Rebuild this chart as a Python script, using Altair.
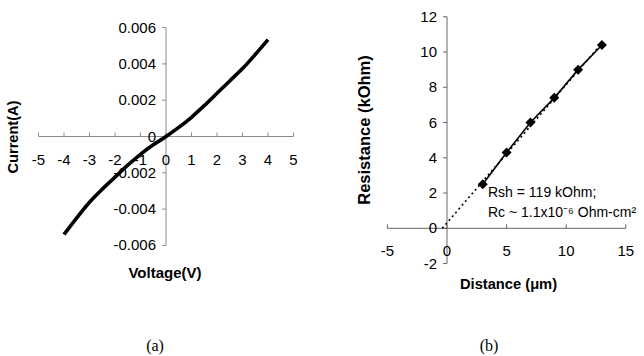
import altair as alt
import pandas as pd

# ---------------- data: panel (a) I-V curve ----------------
voltage = [-4.0, -3.5, -3.0, -2.5, -2.0, -1.5, -1.0, -0.5, 0.0,
           0.5, 1.0, 1.5, 2.0, 2.5, 3.0, 3.5, 4.0]
current = [-0.00540, -0.00448, -0.00362, -0.00290, -0.00224, -0.00158, -0.00098, -0.00046, 0.0,
           0.00050, 0.00106, 0.00170, 0.00238, 0.00306, 0.00374, 0.00452, 0.00534]
a_xticks = [-5, -4, -3, -2, -1, 0, 1, 2, 3, 4, 5]
a_yticks = [-0.006, -0.004, -0.002, 0.0, 0.002, 0.004, 0.006]
a_ylabels = ["-0.006", "-0.004", "-0.002", "0", "0.002", "0.004", "0.006"]

# ---------------- data: panel (b) TLM ----------------
distance = [3, 5, 7, 9, 11, 13]
resistance = [2.5, 4.3, 6.0, 7.4, 9.0, 10.4]
trend_x = [-0.4, 13.0]
trend_y = [0.0, 10.5]
b_xticks = [-5, 0, 5, 10, 15]
b_yticks = [-2, 0, 2, 4, 6, 8, 10, 12]

SANS = "Liberation Sans"
SERIF = "Liberation Serif"


def panel(xs, ys, xticks, xlabels, yticks, ylabels, axis_color, data_layers, extra_text):
    xt = pd.DataFrame({"v": xticks, "lab": xlabels, "z": [0] * len(xticks)})
    yt = pd.DataFrame({"v": yticks, "lab": ylabels, "z": [0] * len(yticks)})
    ax = pd.DataFrame({"x1": [min(xticks)], "x2": [max(xticks)],
                       "y1": [min(yticks)], "y2": [max(yticks)], "z": [0]})
    X = lambda f: alt.X(f, type="quantitative", scale=xs, axis=None)
    Y = lambda f: alt.Y(f, type="quantitative", scale=ys, axis=None)

    xline = alt.Chart(ax).mark_rule(color=axis_color, strokeWidth=1).encode(
        x=X("x1"), x2="x2", y=Y("z"))
    yline = alt.Chart(ax).mark_rule(color=axis_color, strokeWidth=1).encode(
        x=X("z"), y=Y("y1"), y2="y2")
    xtick = alt.Chart(xt).mark_rule(color=axis_color, strokeWidth=1, y2Offset=-4).encode(
        x=X("v"), y=Y("z"), y2="z")
    ytick = alt.Chart(yt).mark_rule(color=axis_color, strokeWidth=1, x2Offset=-4).encode(
        y=Y("v"), x=X("z"), x2="z")
    xlab = alt.Chart(xt).mark_text(font=SANS, fontSize=15, color="black",
                                   baseline="middle", align="center", dy=23).encode(
        x=X("v"), y=Y("z"), text="lab")
    ylab = alt.Chart(yt).mark_text(font=SANS, fontSize=15, color="black",
                                   baseline="middle", align="right", dx=-10).encode(
        x=X("z"), y=Y("v"), text="lab")
    layers = [xline, yline, xtick, ytick] + data_layers + [xlab, ylab]
    for t in extra_text:
        layers.append(t)
    return alt.layer(*layers).properties(width=322, height=356)


def label(text, x, y, size, bold=False, angle=0, font=SANS, align="center"):
    props = dict(font=font, fontSize=size, color="black", baseline="middle", align=align)
    if bold:
        props["fontWeight"] = "bold"
    if angle:
        props["angle"] = angle
    return alt.Chart(pd.DataFrame({"t": [text]})).mark_text(**props).encode(
        x=alt.value(x), y=alt.value(y), text="t")


# panel (a)
xs_a = alt.Scale(domain=[-6.51, 6.118], nice=False, zero=False)
ys_a = alt.Scale(domain=[-0.012094, 0.007521], nice=False, zero=False)
iv = pd.DataFrame({"V": voltage, "I": current})
curve = alt.Chart(iv).mark_line(color="black", strokeWidth=3.6, interpolate="monotone").encode(
    x=alt.X("V:Q", scale=xs_a, axis=None), y=alt.Y("I:Q", scale=ys_a, axis=None))
panel_a = panel(xs_a, ys_a, a_xticks, [str(v) for v in a_xticks], a_yticks, a_ylabels,
                "#8c8c8c", [curve],
                [label("Current(A)", 14, 137, 14.6, bold=True, angle=270),
                 label("Voltage(V)", 165, 273, 15, bold=True),
                 label("(a)", 155, 346, 16, font=SERIF)])

# panel (b)
xs_b = alt.Scale(domain=[-10.487, 16.527], nice=False, zero=False)
ys_b = alt.Scale(domain=[-7.243, 12.95], nice=False, zero=False)
tlm = pd.DataFrame({"d": distance, "r": resistance})
tr = pd.DataFrame({"d": trend_x, "r": trend_y})
trend = alt.Chart(tr).mark_line(color="black", strokeWidth=1.6, strokeDash=[2, 3]).encode(
    x=alt.X("d:Q", scale=xs_b, axis=None), y=alt.Y("r:Q", scale=ys_b, axis=None))
meas_line = alt.Chart(tlm).mark_line(color="black", strokeWidth=1.6).encode(
    x=alt.X("d:Q", scale=xs_b, axis=None), y=alt.Y("r:Q", scale=ys_b, axis=None))
meas_pts = alt.Chart(tlm).mark_point(shape="diamond", filled=True, color="black",
                                     size=100, opacity=1).encode(
    x=alt.X("d:Q", scale=xs_b, axis=None), y=alt.Y("r:Q", scale=ys_b, axis=None))
panel_b = panel(xs_b, ys_b, b_xticks, [str(v) for v in b_xticks], b_yticks,
                [str(v) for v in b_yticks], "#666666", [trend, meas_line, meas_pts],
                [label("Resistance (kOhm)", 43, 130, 16.5, bold=True, angle=270),
                 label("Distance (\u03bcm)", 186.5, 285, 14.7, bold=True),
                 label("Rsh = 119 kOhm;", 166, 193, 14, align="left"),
                 label("Rc ~ 1.1x10\u207b\u2076 Ohm-cm\u00b2", 166, 213, 14, align="left"),
                 label("(b)", 167, 346, 16, font=SERIF)])

chart = alt.hconcat(panel_a, panel_b, spacing=0, bounds="flush").properties(
    padding=0, background="white"
).configure_view(strokeWidth=0, clip=False)

chart.save("out.html", embed_options={"renderer": "svg", "actions": False})
